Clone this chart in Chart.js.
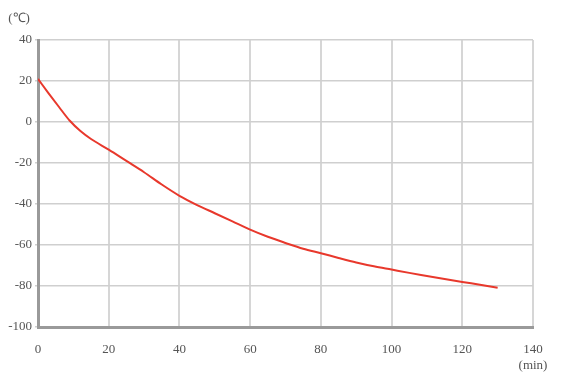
<!DOCTYPE html>
<html>
<head>
<meta charset="utf-8">
<script src="https://cdn.jsdelivr.net/npm/chart.js@4"></script>
<style>
  body { margin: 0; background: #fff; }
  #wrap { width: 564px; height: 386px; }
</style>
</head>
<body>
<div id="wrap"><canvas id="myChart" width="564" height="386"></canvas></div>
<script>
// time (min) and temperature (C)
const minutes = [0, 3, 6, 9, 12, 15, 20, 25, 30, 35, 40, 45, 50, 55, 60, 65, 70, 75, 80, 85, 90, 95, 100, 105, 110, 115, 120, 125, 130];
const temps = [21, 14, 7.2, 0.6, -4.4, -8.3, -13.5, -19, -24.5, -30.5, -36, -40.5, -44.5, -48.5, -52.5, -56, -59, -61.8, -64, -66.3, -68.5, -70.4, -72, -73.6, -75.1, -76.6, -78, -79.4, -80.8];

const xTicks = [0, 20, 40, 60, 80, 100, 120, 140];
const yTicks = [40, 20, 0, -20, -40, -60, -80, -100];
const yUnit = "(℃)";
const xUnit = "(min)";

const tickFont = { family: "'Liberation Serif', 'DejaVu Serif', serif", size: 13 };

//draw the two unit labels
const unitLabels = {
  id: "unitLabels",
  afterDraw(chart) {
    const ctx = chart.ctx;
    const area = chart.chartArea;
    ctx.save();
    ctx.fillStyle = "#555";
    ctx.font = "13px 'Liberation Serif', serif";
    ctx.textAlign = "center";
    ctx.textBaseline = "middle";
    ctx.fillText(yUnit, area.left - 19, area.top - 21);
    ctx.fillText(xUnit, area.right, area.bottom + 39);
    ctx.restore();
  },
};

const data = {
  datasets: [
    {
      data: minutes.map((m, i) => ({ x: m, y: temps[i] })),
      borderColor: "#e8382c",
      backgroundColor: "#e8382c",
      borderWidth: 2,
      showLine: true,
      pointRadius: 0,
      cubicInterpolationMode: "monotone",
    },
  ],
};

const config = {
  type: "scatter",
  data: data,
  options: {
    responsive: false,
    animation: false,
    layout: {
      padding: { left: 0, top: 40, right: 31, bottom: 0 },
    },
    scales: {
      x: {
        type: "linear",
        min: 0,
        max: 140,
        afterBuildTicks: (axis) => {
          axis.ticks = xTicks.map((v) => ({ value: v }));
        },
        afterFit: (axis) => {
          axis.height = 59;
        },
        grid: {
          color: "#d6d6d6",
          lineWidth: 2,
          drawTicks: false,
        },
        border: { color: "#9a9a9a", width: 3 },
        ticks: {
          color: "#555",
          font: tickFont,
          padding: 15,
          maxRotation: 0,
        },
      },
      y: {
        min: -100,
        max: 40,
        afterBuildTicks: (axis) => {
          axis.ticks = yTicks.map((v) => ({ value: v }));
        },
        afterFit: (axis) => {
          axis.width = 38;
        },
        grid: {
          color: "#cfcfcf",
          lineWidth: 1.5,
          drawTicks: true,
          tickLength: 3,
        },
        border: { color: "#9a9a9a", width: 3 },
        ticks: {
          color: "#555",
          font: tickFont,
          padding: 3,
        },
      },
    },
    plugins: {
      legend: { display: false },
      tooltip: { enabled: false },
    },
  },
  plugins: [unitLabels],
};

var myChart = new Chart(document.getElementById("myChart"), config);
</script>
</body>
</html>
